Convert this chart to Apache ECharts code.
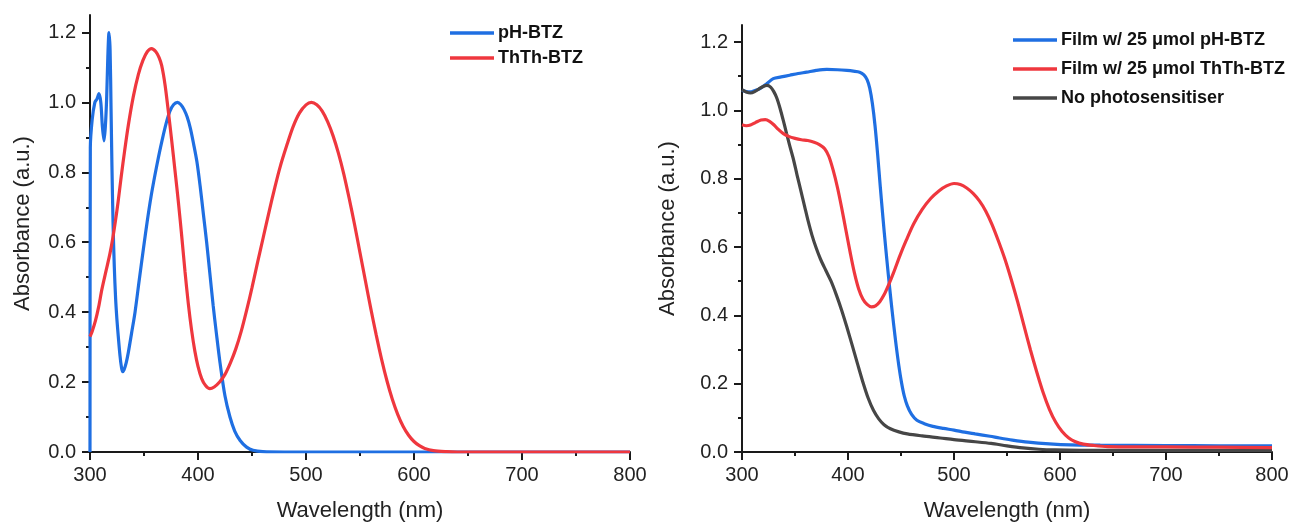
<!DOCTYPE html>
<html>
<head>
<meta charset="utf-8">
<script src="https://cdn.jsdelivr.net/npm/echarts@6.0.0/dist/echarts.min.js"></script>
<style>
html,body{margin:0;padding:0;background:#fff;}
#c{width:1292px;height:522px;}
</style>
</head>
<body>
<div id="c"></div>
<script>
// ---- Data (wavelength nm, absorbance a.u.) ----
const xTicks = [300, 400, 500, 600, 700, 800];
const yTicks = [0, 0.2, 0.4, 0.6, 0.8, 1.0, 1.2];

const legendLeft = ['pH-BTZ', 'ThTh-BTZ'];
const legendRight = ['Film w/ 25 μmol pH-BTZ', 'Film w/ 25 μmol ThTh-BTZ', 'No photosensitiser'];

const solPhBtz = [
  [300,0.0],[300.3,0.87],[302,0.95],[304.5,1.0],[306.5,1.01],[308.3,1.025],[310,1.0],[311.5,0.93],
  [313,0.89],[314.2,0.93],[315.4,1.01],[316.5,1.13],[317.6,1.2],[318.6,1.15],[319.5,0.98],[320.3,0.82],
  [321.3,0.66],[322.5,0.53],[323.7,0.44],[324.9,0.38],[326.2,0.33],[327.8,0.275],[329,0.245],[330.2,0.23],
  [331.5,0.235],[333.5,0.255],[335.5,0.285],[338.5,0.34],[341.7,0.40],[345.5,0.49],[349.4,0.58],[353,0.66],
  [356.5,0.73],[360,0.79],[363.5,0.845],[367,0.895],[370.5,0.94],[374,0.975],[377.5,0.994],[381,1.0],
  [384,0.994],[387,0.98],[390,0.958],[393,0.925],[396,0.88],[399,0.83],[402,0.76],[405,0.68],
  [408,0.60],[411,0.51],[414,0.42],[417,0.34],[420.4,0.255],[425,0.16],[429.6,0.10],[434,0.06],
  [439,0.033],[445,0.014],[451,0.005],[460,0.001],[480,0.0],[600,0.0],[800,0.0]
];
const solThThBtz = [
  [300,0.33],[302,0.345],[305,0.375],[308,0.415],[311,0.465],[315,0.52],[318.5,0.568],[321,0.61],
  [323.5,0.66],[326,0.715],[329,0.79],[332,0.86],[335.5,0.935],[340,1.015],[344.8,1.08],[349,1.12],
  [353,1.145],[357,1.154],[361,1.145],[364,1.128],[366.4,1.105],[369.5,1.05],[372.5,0.975],[375.5,0.895],
  [378.7,0.805],[382,0.71],[385,0.615],[388,0.515],[391,0.425],[394,0.35],[397,0.29],[400,0.245],
  [403.4,0.21],[407,0.19],[411,0.181],[415,0.186],[420,0.20],[425,0.222],[430,0.255],[435,0.295],
  [440,0.345],[445,0.405],[450,0.47],[455,0.54],[460.5,0.615],[466,0.69],[471,0.755],[476,0.815],
  [482,0.875],[488,0.93],[494,0.97],[500,0.993],[505,1.0],[510,0.993],[515,0.975],[520,0.945],
  [525,0.905],[530,0.855],[535,0.795],[540,0.725],[545,0.65],[550,0.57],[555,0.49],[560,0.41],
  [565,0.335],[570,0.265],[575,0.203],[580,0.15],[585,0.107],[590,0.073],[595,0.048],[600,0.03],
  [605,0.018],[610,0.01],[618,0.004],[630,0.001],[640,0.0],[800,0.0]
];

const filmPhBtz = [
  [300,1.059],[304,1.055],[307.5,1.054],[312,1.058],[317,1.064],[323.3,1.078],[329.5,1.093],[337,1.098],
  [345,1.103],[353,1.108],[361,1.112],[370,1.117],[380,1.12],[390,1.119],[399,1.117],[405,1.115],
  [411,1.112],[415,1.104],[418,1.09],[420.5,1.065],[423,1.02],[425.5,0.955],[428,0.87],[430.5,0.775],
  [433,0.685],[435.5,0.60],[438,0.52],[440.5,0.445],[443,0.375],[445.5,0.31],[448,0.252],[450.5,0.203],
  [453,0.165],[456,0.135],[460,0.11],[465,0.093],[472,0.083],[480,0.075],[490,0.069],[500,0.064],
  [510,0.058],[520,0.053],[534,0.046],[543,0.041],[555,0.035],[570,0.029],[590,0.024],[610,0.021],
  [638,0.02],[700,0.019],[750,0.018],[800,0.018]
];
const noPhotosensitiser = [
  [300,1.061],[304,1.054],[308,1.051],[312,1.055],[316,1.063],[320,1.07],[323.5,1.073],[327,1.068],
  [330,1.055],[333,1.035],[336,1.005],[339,0.97],[342,0.933],[345,0.897],[348.5,0.857],[352,0.81],
  [355.5,0.765],[359,0.72],[362.5,0.675],[366,0.635],[370,0.597],[374,0.565],[379,0.532],[384,0.50],
  [389,0.46],[394,0.415],[399,0.365],[404,0.312],[409,0.258],[414,0.205],[419,0.158],[424,0.122],
  [429,0.097],[434,0.08],[440,0.068],[448,0.059],[456,0.053],[470,0.047],[487,0.041],[500,0.036],
  [520,0.03],[535,0.025],[550,0.018],[565,0.012],[580,0.008],[595,0.006],[620,0.005],[800,0.005]
];
const filmThThBtz = [
  [300,0.958],[304,0.955],[308,0.957],[313,0.965],[318,0.972],[322,0.973],[326,0.968],[330,0.958],
  [334,0.945],[339,0.932],[344,0.924],[350,0.918],[356,0.914],[362,0.912],[368,0.907],[373,0.90],
  [378,0.888],[382,0.865],[386,0.825],[390,0.775],[394,0.715],[398,0.65],[402,0.585],[406,0.525],
  [410,0.478],[414,0.448],[418,0.432],[422,0.425],[426,0.428],[430,0.44],[434,0.46],[438,0.487],
  [443,0.525],[449,0.575],[455,0.62],[462,0.668],[470,0.71],[478,0.742],[486,0.765],[493,0.779],
  [500,0.786],[506,0.783],[512,0.773],[518,0.757],[524,0.735],[530,0.705],[536,0.665],[542,0.617],
  [548,0.565],[554,0.505],[560,0.44],[566,0.37],[572,0.30],[578,0.235],[584,0.175],[590,0.125],
  [596,0.087],[602,0.06],[608,0.042],[614,0.031],[622,0.023],[632,0.019],[645,0.016],[700,0.015],
  [750,0.014],[800,0.013]
];

// ---- Styles ----
const FONT = 'Liberation Sans, Arial, Helvetica, sans-serif';
const BLUE = '#1f6fe2', RED = '#ef373e', DARK = '#464646', AXIS = '#1a1a1a', TXT = '#222';

function xAxisCfg(gridIndex) {
  return {
    type: 'value', gridIndex, min: 300, max: 800, interval: 100,
    name: 'Wavelength (nm)', nameLocation: 'middle', nameGap: 48,
    nameTextStyle: { fontFamily: FONT, fontSize: 22, color: TXT },
    axisLine: { show: true, onZero: false, lineStyle: { color: AXIS, width: 2 } },
    axisTick: { show: true, inside: false, length: 8, lineStyle: { color: AXIS, width: 2 } },
    minorTick: { show: true, splitNumber: 2, length: 4, lineStyle: { color: AXIS, width: 2 } },
    axisLabel: { fontFamily: FONT, fontSize: 20, color: TXT, margin: 13, customValues: xTicks },
    splitLine: { show: false }, minorSplitLine: { show: false }
  };
}
function yAxisCfg(gridIndex, gap) {
  return {
    type: 'value', gridIndex, min: 0, max: 1.25, interval: 0.2,
    name: 'Absorbance (a.u.)', nameLocation: 'middle', nameGap: gap,
    nameTextStyle: { fontFamily: FONT, fontSize: 22, color: TXT, padding: [0, 0, 0, 20] },
    axisLine: { show: true, onZero: false, lineStyle: { color: AXIS, width: 2 } },
    axisTick: { show: true, inside: false, length: 8, lineStyle: { color: AXIS, width: 2 },
                customValues: yTicks },
    minorTick: { show: true, splitNumber: 2, length: 4, lineStyle: { color: AXIS, width: 2 } },
    axisLabel: { fontFamily: FONT, fontSize: 20, color: TXT, margin: 14,
                 customValues: yTicks,
                 formatter: v => (Math.abs(v / 0.2 - Math.round(v / 0.2)) < 1e-6 ? v.toFixed(1) : '') },
    splitLine: { show: false }, minorSplitLine: { show: false }
  };
}
function lineSeries(name, data, color, xi, yi) {
  return {
    type: 'line', name, data, xAxisIndex: xi, yAxisIndex: yi,
    showSymbol: false, symbol: 'none', smooth: 0.3, clip: true,
    lineStyle: { color, width: 3.2 }, itemStyle: { color }
  };
}
const legendText = { fontFamily: FONT, fontSize: 18, fontWeight: 'bold', color: '#111', padding: [0, 0, 0, -1] };

const chart = echarts.init(document.getElementById('c'), null, { renderer: 'canvas' });
chart.setOption({
  backgroundColor: '#fff',
  animation: false,
  textStyle: { fontFamily: FONT },
  grid: [
    { left: 90, width: 540, top: 15, height: 437, containLabel: false, outerBoundsMode: 'none' },
    { left: 742, width: 530, top: 25, height: 427, containLabel: false, outerBoundsMode: 'none' }
  ],
  xAxis: [xAxisCfg(0), xAxisCfg(1)],
  yAxis: [yAxisCfg(0, 56), yAxisCfg(1, 63)],
  legend: [
    { data: legendLeft, orient: 'vertical', left: 445, top: 19, itemGap: 7, padding: 5,
      icon: 'rect', itemWidth: 44, itemHeight: 3.5, textStyle: legendText },
    { data: legendRight, orient: 'vertical', left: 1008, top: 26, itemGap: 11, padding: 5,
      icon: 'rect', itemWidth: 44, itemHeight: 3.5, textStyle: legendText }
  ],
  series: [
    lineSeries(legendLeft[0], solPhBtz, BLUE, 0, 0),
    lineSeries(legendLeft[1], solThThBtz, RED, 0, 0),
    lineSeries(legendRight[0], filmPhBtz, BLUE, 1, 1),
    lineSeries(legendRight[2], noPhotosensitiser, DARK, 1, 1),
    lineSeries(legendRight[1], filmThThBtz, RED, 1, 1)
  ]
});
</script>
</body>
</html>
